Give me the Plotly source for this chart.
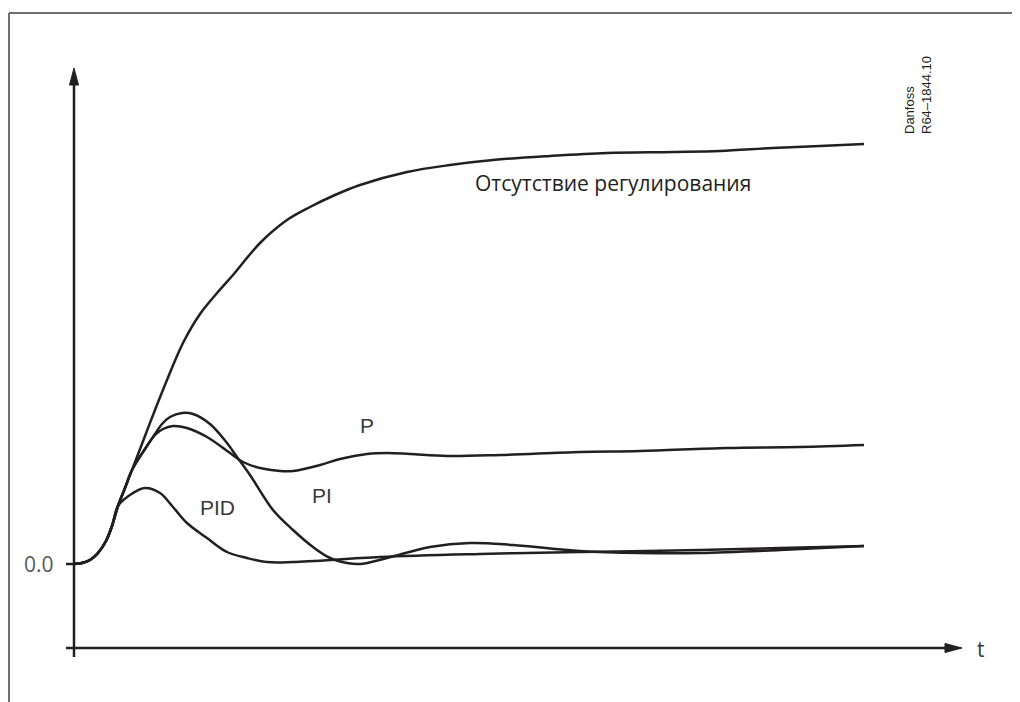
import plotly.graph_objects as go

# Время (усл. ед.) и отклик для каждого регулятора
t_none = [0, 0.8, 1.6, 2.4, 3.2, 3.8, 4.4, 5.1, 5.8, 7.1, 8.1, 9.3, 10.9, 12.6, 14.3, 15.9,
          18.6, 21.3, 23.6, 26.1, 28.6, 33.3, 37.6, 41.9, 47.6, 53.3, 59.9, 64.6, 69.9, 74.6, 79.0]
y_none = [0, 0.01, 0.04, 0.11, 0.23, 0.38, 0.58, 0.76, 0.94, 1.28, 1.54, 1.84, 2.21, 2.50, 2.71, 2.89,
          3.21, 3.44, 3.57, 3.69, 3.79, 3.92, 3.99, 4.04, 4.08, 4.11, 4.12, 4.13, 4.16, 4.18, 4.20]

t_p = [0, 0.8, 1.6, 2.4, 3.2, 3.8, 4.4, 5.1, 5.8, 7.1, 8.1, 8.9, 9.9, 11.3, 13.3, 15.6, 16.9, 18.6, 20.6, 21.9,
       24.6, 26.6, 29.3, 31.3, 33.6, 37.3, 42.6, 50.6, 56.6, 65.3, 72.6, 79.0]
y_p = [0, 0.01, 0.04, 0.11, 0.23, 0.38, 0.58, 0.76, 0.94, 1.15, 1.29, 1.35, 1.38, 1.36, 1.27, 1.11, 1.02, 0.96, 0.93, 0.93,
       0.99, 1.05, 1.10, 1.11, 1.10, 1.08, 1.09, 1.12, 1.13, 1.16, 1.17, 1.19]

t_pi = [0, 0.8, 1.6, 2.4, 3.2, 3.8, 4.4, 5.1, 5.8, 7.1, 8.1, 8.8, 9.6, 10.8, 11.9, 13.6, 15.3, 16.3, 17.6, 19.9,
        21.9, 23.9, 25.6, 27.3, 28.6, 31.3, 35.6, 39.6, 43.9, 50.6, 56.6, 62.6, 70.6, 79.0]
y_pi = [0, 0.01, 0.04, 0.11, 0.23, 0.38, 0.58, 0.76, 0.94, 1.15, 1.30, 1.40, 1.47, 1.51, 1.50, 1.40, 1.21, 1.07, 0.89, 0.54,
        0.34, 0.17, 0.06, 0.01, 0.00, 0.06, 0.17, 0.21, 0.19, 0.13, 0.11, 0.11, 0.14, 0.18]

t_pid = [0, 0.8, 1.6, 2.4, 3.2, 3.8, 4.4, 5.9, 7.1, 8.6, 9.9, 11.3, 13.3, 15.3, 17.3, 19.3, 21.9,
         30.6, 40.6, 50.6, 62.6, 70.6, 79.0]
y_pid = [0, 0.01, 0.04, 0.11, 0.23, 0.38, 0.58, 0.71, 0.76, 0.71, 0.57, 0.41, 0.26, 0.12, 0.06, 0.02, 0.02,
         0.07, 0.10, 0.12, 0.14, 0.16, 0.18]

ink = "#231f20"
fig = go.Figure()
for tt, yy in [(t_none, y_none), (t_p, y_p), (t_pi, y_pi), (t_pid, y_pid)]:
    fig.add_trace(go.Scatter(x=tt, y=yy, mode="lines",
                             line=dict(color=ink, width=2.5, shape="spline", smoothing=1.0),
                             hoverinfo="skip", showlegend=False))

# оси со стрелками
fig.add_shape(type="line", x0=0, x1=0, y0=-0.93, y1=4.8, line=dict(color=ink, width=2.5))
fig.add_shape(type="path", path="M -0.45,4.79 L 0,4.96 L 0.45,4.79 Z", fillcolor=ink, line=dict(color=ink, width=1))
fig.add_shape(type="line", x0=-0.8, x1=87.2, y0=-0.84, y1=-0.84, line=dict(color=ink, width=2.5))
fig.add_shape(type="path", path="M 87.1,-0.795 L 88.8,-0.84 L 87.1,-0.885 Z", fillcolor=ink, line=dict(color=ink, width=1))
fig.add_shape(type="line", x0=-0.8, x1=0, y0=0, y1=0, line=dict(color=ink, width=2.5))

# рамка
fig.add_shape(type="line", xref="paper", yref="paper", x0=0.001, x1=1, y0=0.993, y1=0.993,
              line=dict(color="#6d6e71", width=2))
fig.add_shape(type="line", xref="paper", yref="paper", x0=0.001, x1=0.001, y0=0, y1=0.993,
              line=dict(color="#6d6e71", width=2))

fig.add_annotation(x=53.9, y=3.81, text="Отсутствие регулирования", showarrow=False,
                   font=dict(family="Open Sans", size=21, color=ink))
lab = dict(family="Liberation Sans", size=21, color="#3a3a3a")
fig.add_annotation(x=29.3, y=1.39, text="P", showarrow=False, font=lab)
fig.add_annotation(x=24.8, y=0.69, text="PI", showarrow=False, font=lab)
fig.add_annotation(x=14.3, y=0.57, text="PID", showarrow=False, font=lab)
fig.add_annotation(x=-1.8, y=0, text="0.0", showarrow=False, xanchor="right",
                   font=dict(family="Open Sans", size=21, color="#58595b"))
fig.add_annotation(x=90.7, y=-0.85, text="t", showarrow=False,
                   font=dict(family="Open Sans", size=21, color="#3a3a3a"))
fig.add_annotation(x=84.4, y=4.69, text="Danfoss<br>R64–1844.10", showarrow=False, textangle=-90,
                   align="left", font=dict(family="Liberation Sans", size=13, color=ink))

# страница имеет отступ 8px, поэтому диапазоны сдвинуты
fig.update_layout(width=1020, height=702, margin=dict(l=0, r=0, t=0, b=0),
                  plot_bgcolor="white", paper_bgcolor="white",
                  xaxis=dict(range=[-6.6, 95.4], visible=False),
                  yaxis=dict(range=[-1.46, 5.56], visible=False))
fig.write_html("out.html")
